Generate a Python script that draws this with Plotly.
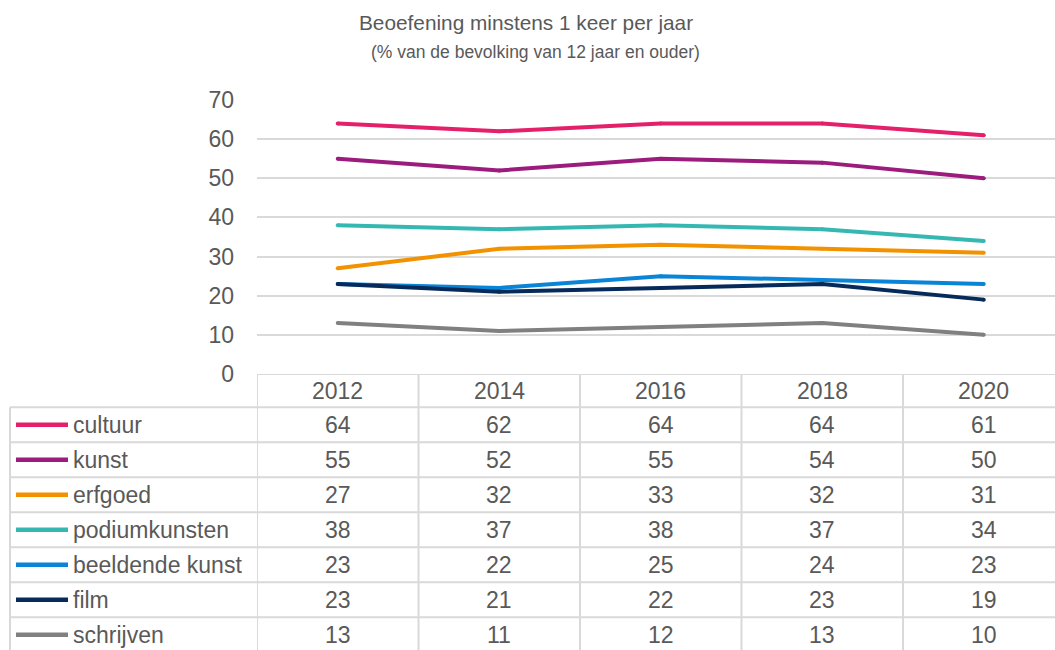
import plotly.graph_objects as go

years = [2012, 2014, 2016, 2018, 2020]
series_names = ['cultuur', 'kunst', 'erfgoed', 'podiumkunsten',
                'beeldende kunst', 'film', 'schrijven']
cultuur = [64, 62, 64, 64, 61]
kunst = [55, 52, 55, 54, 50]
erfgoed = [27, 32, 33, 32, 31]
podiumkunsten = [38, 37, 38, 37, 34]
beeldende_kunst = [23, 22, 25, 24, 23]
film = [23, 21, 22, 23, 19]
schrijven = [13, 11, 12, 13, 10]
series_values = [cultuur, kunst, erfgoed, podiumkunsten, beeldende_kunst, film, schrijven]
colors = ['#E5206A', '#9C1C7E', '#F39200', '#36B8B2', '#0A84D6', '#062A59', '#808080']
y_ticks = [0, 10, 20, 30, 40, 50, 60, 70]

W, H = 1055, 650
TXT = '#595959'
GRID = '#d9d9d9'
FONT = 'Liberation Sans, Arial, sans-serif'

# pixel layout (excel-like chart with data table)
plot_left = 257
y0_px, y70_px = 374, 100
header_h = 33.3
row_h = 35.0
col_w = 161.5          # one column = 2 years
table_left = 10

x_lo = years[0] - 1
x_hi = x_lo + (W - plot_left) / col_w * 2
row_top = -0.5 - header_h / row_h
row_bottom = -0.5 + (H - (y0_px + header_h)) / row_h

fig = go.Figure()
for name, vals, c in zip(series_names, series_values, colors):
    fig.add_scatter(x=years, y=vals, mode='lines+markers', name=name,
                    line=dict(color=c, width=4), marker=dict(color=c, size=4),
                    showlegend=False)

shapes = []
annotations = []
grid_line = dict(color=GRID, width=2)

# table horizontal lines
shapes.append(dict(type='line', xref='x', yref='y2', x0=x_lo, x1=x_hi,
                   y0=row_top, y1=row_top, line=grid_line))
for k in range(len(series_names) + 1):
    yy = -0.5 + k
    shapes.append(dict(type='line', xref='paper', yref='y2', x0=table_left / W, x1=1,
                       y0=yy, y1=yy, line=grid_line))
# table vertical lines
shapes.append(dict(type='line', xref='paper', yref='y2', x0=table_left / W, x1=table_left / W,
                   y0=-0.5, y1=row_bottom, line=grid_line))
for yr in years:
    shapes.append(dict(type='line', xref='x', yref='y2', x0=yr - 1, x1=yr - 1,
                       y0=row_top, y1=row_bottom, line=grid_line))

cell_font = dict(size=23, color=TXT, family=FONT)

# header years
for yr in years:
    annotations.append(dict(x=yr, y=(row_top - 0.5) / 2, xref='x', yref='y2', text=str(yr),
                            showarrow=False, xanchor='center', yanchor='middle', font=cell_font))

# rows: legend key, label, values
for i, (name, vals, c) in enumerate(zip(series_names, series_values, colors)):
    shapes.append(dict(type='line', xref='paper', yref='y2', x0=16 / W, x1=68 / W,
                       y0=i, y1=i, line=dict(color=c, width=4.5)))
    annotations.append(dict(x=72 / W, y=i, xref='paper', yref='y2', text=name,
                            xanchor='left', yanchor='middle', showarrow=False,
                            borderpad=0, font=cell_font))
    for yr, v in zip(years, vals):
        annotations.append(dict(x=yr, y=i, xref='x', yref='y2', text=str(v),
                                showarrow=False, xanchor='center', yanchor='middle',
                                borderpad=0, font=cell_font))

# titles
annotations.append(dict(x=526 / W, y=1 - 23 / H, xref='paper', yref='paper',
                        text='Beoefening minstens 1 keer per jaar', showarrow=False,
                        xanchor='center', yanchor='middle',
                        font=dict(size=20.8, color=TXT, family=FONT)))
annotations.append(dict(x=535 / W, y=1 - 52 / H, xref='paper', yref='paper',
                        text='(% van de bevolking van 12 jaar en ouder)', showarrow=False,
                        xanchor='center', yanchor='middle',
                        font=dict(size=17.5, color=TXT, family=FONT)))

fig.update_layout(
    width=W, height=H,
    margin=dict(l=0, r=0, t=0, b=0, autoexpand=False),
    paper_bgcolor='white', plot_bgcolor='white',
    font=dict(family=FONT, color=TXT),
    xaxis=dict(domain=[plot_left / W, 1], range=[x_lo, x_hi], automargin=False,
               showticklabels=False, showgrid=False, zeroline=False, showline=False),
    yaxis=dict(domain=[(H - y0_px) / H, (H - y70_px) / H], range=[0, 70], automargin=False,
               tickvals=y_ticks, showgrid=True, gridcolor=GRID, gridwidth=2,
               zeroline=False, showline=False, ticks='', ticklen=0,
               tickfont=dict(size=23, color=TXT, family=FONT), ticklabelstandoff=22),
    yaxis2=dict(domain=[0, (H - y0_px) / H], range=[row_bottom, row_top],
                visible=False, anchor='x', automargin=False),
    shapes=shapes,
    annotations=annotations,
)

fig.write_html("out.html", config={'displayModeBar': False},
               post_script="document.body.style.margin='0';")
